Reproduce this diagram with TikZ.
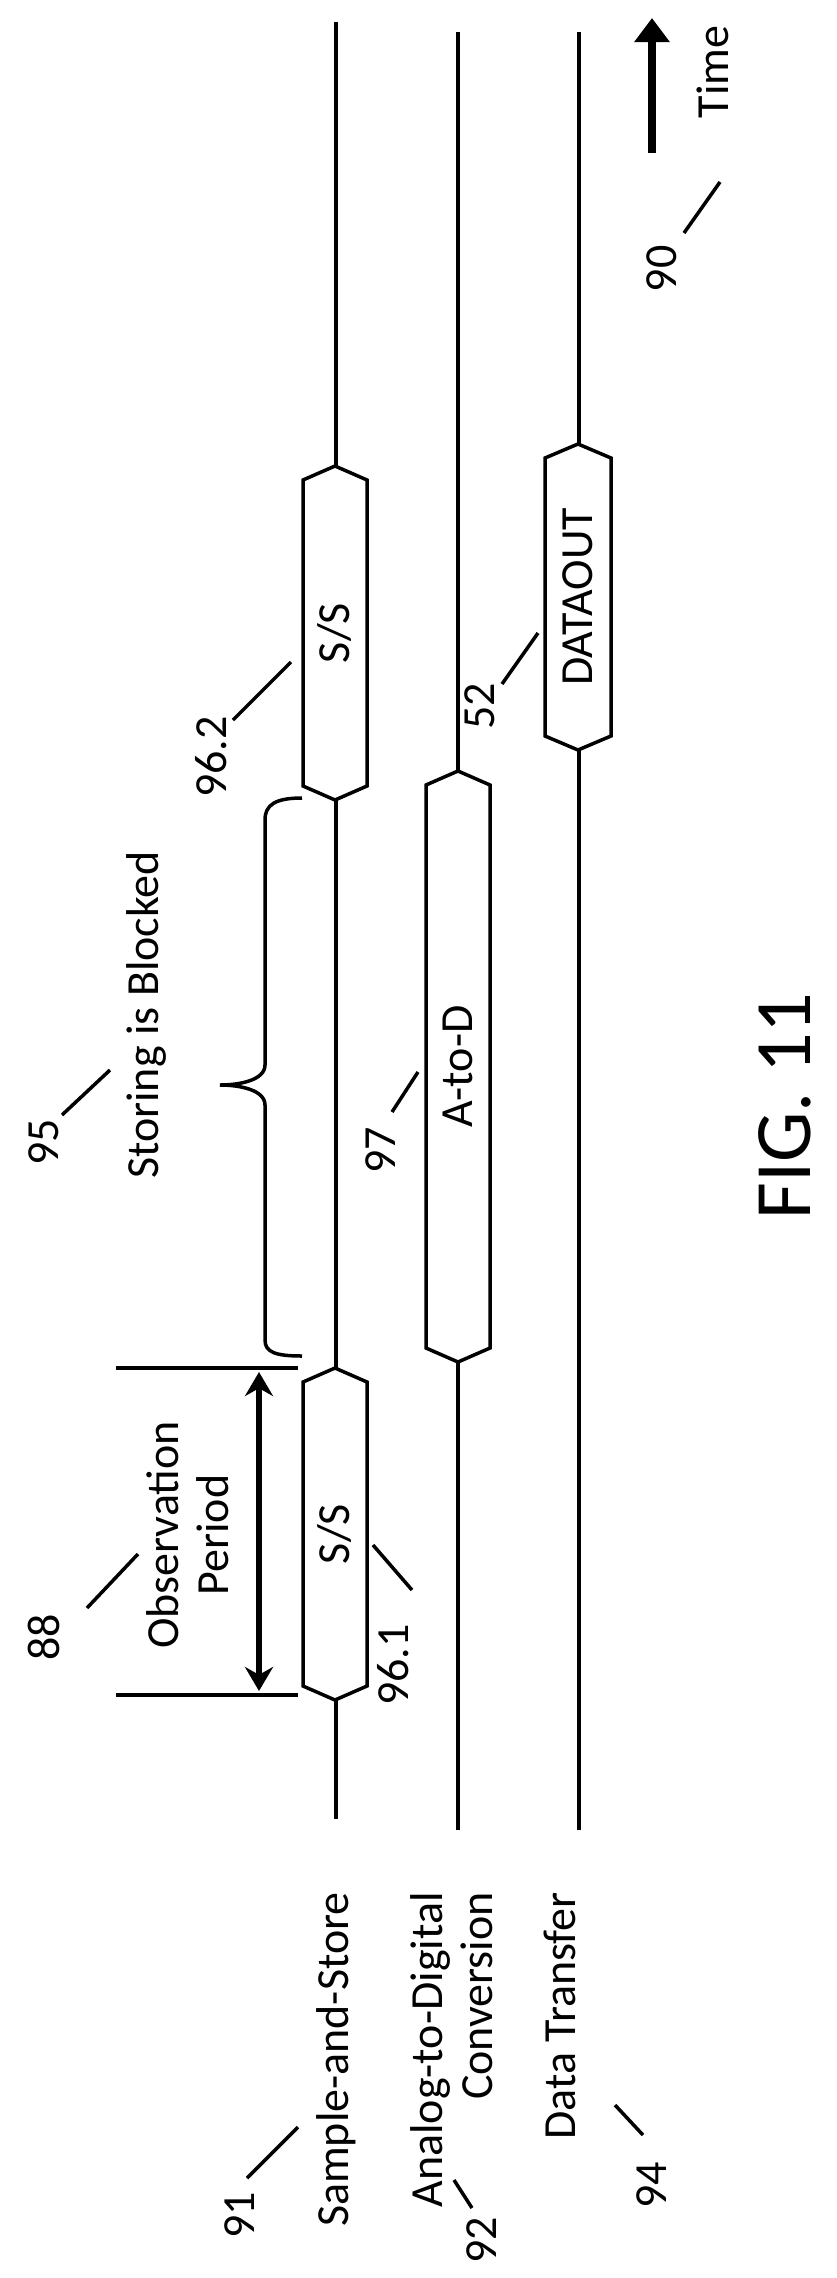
\documentclass[tikz,border=0pt]{standalone}
\usepackage{fontspec}
\setmainfont{Carlito}
\usetikzlibrary{arrows.meta}
\tikzset{
  lbl/.style={font=\fontsize{46}{50}\selectfont, rotate=90, inner sep=0pt},
  lead/.style={line width=3.5pt},
  lane/.style={line width=3.5pt},
}
\newcommand{\hexbox}[5]{% name, x left, y top, x right, y bottom
  \draw[lane, fill=white] (#2,#3+14) -- ({(#2+#4)/2},#3) -- (#4,#3+14) -- (#4,#5-14) -- ({(#2+#4)/2},#5) -- (#2,#5-14) -- cycle;
  \coordinate (#1) at ({(#2+#4)/2},{(#3+#5)/2});
}
\begin{document}
\begin{tikzpicture}[x=1pt,y=-1pt]
  \useasboundingbox (0,0) rectangle (836,2278);
  % voies
  \draw[lane] (336,22) -- (336,1819);
  \draw[lane] (458,32) -- (458,1830);
  \draw[lane] (579,32) -- (579,1830);

  % blocs
  \hexbox{ss2}{303}{466}{367}{800}
  \hexbox{ss1}{303}{1368}{367}{1700}
  \hexbox{atod}{426}{771}{490}{1362}
  \hexbox{dout}{545}{444}{611}{750}
  \node[lbl] at (ss2) {S/S};
  \node[lbl] at (ss1) {S/S};
  \node[lbl] at (atod) {A-to-D};
  \node[lbl] at (dout) {DATAOUT};

  % periode d'observation
  \draw[lane] (116,1368) -- (298,1368);
  \draw[lane] (116,1695) -- (298,1695);
  \draw[line width=6pt, {Stealth[length=24pt,width=28pt]}-{Stealth[length=24pt,width=28pt]}] (259,1372) -- (259,1691);
  \node[lbl, align=center] (obs) at (188,1535) {Observation\\Period};

  % accolade
  \draw[lane] (302,798) .. controls (275,798) and (265,805) .. (265,820)
    -- (265,1065) .. controls (265,1080) and (240,1085) .. (220,1085)
    .. controls (240,1085) and (265,1090) .. (265,1105)
    -- (265,1340) .. controls (265,1352) and (275,1356) .. (302,1356);
  \node[lbl] (blk) at (146,1015) {Storing is Blocked};

  % noms des voies
  \node[lbl, anchor=east] (sas) at (336,1892) {Sample-and-Store};
  \node[lbl, anchor=north east, align=right] (adc) at (410,1892) {Analog-to-Digital\\Conversion};
  \node[lbl, anchor=east] (dt) at (560,1892) {Data Transfer};

  % temps
  \draw[line width=8pt, -{Triangle[length=24pt,width=34pt]}] (652,153) -- (652,18);
  \node[lbl] (time) at (713,72) {Time};
  \node[lbl, font=\fontsize{80}{84}\selectfont] (fig) at (785,1106) {FIG. 11};

  % reperes numerotes
  \node[lbl] (n91) at (240,2215) {91};
  \draw[lead] (247,2178) -- (298,2127);
  \node[lbl] (n92) at (482,2240) {92};
  \draw[lead] (454,2180) -- (472,2208);
  \node[lbl] (n94) at (652,2185) {94};
  \draw[lead] (615,2105) -- (643,2135);
  \node[lbl] (n88) at (44,1637) {88};
  \draw[lead] (87,1608) -- (138,1554);
  \node[lbl] (n961) at (393,1665) {96.1};
  \draw[lead] (373,1545) -- (412,1590);
  \node[lbl] (n95) at (44,1142) {95};
  \draw[lead] (62,1115) -- (110,1070);
  \node[lbl] (n97) at (381,1150) {97};
  \draw[lead] (392,1112) -- (418,1072);
  \node[lbl] (n962) at (211,757) {96.2};
  \draw[lead] (233,720) -- (291,662);
  \node[lbl] (n52) at (480,706) {52};
  \draw[lead] (502,684) -- (538,633);
  \node[lbl] (n90) at (662,269) {90};
  \draw[lead] (684,233) -- (720,182);
\end{tikzpicture}
\end{document}
